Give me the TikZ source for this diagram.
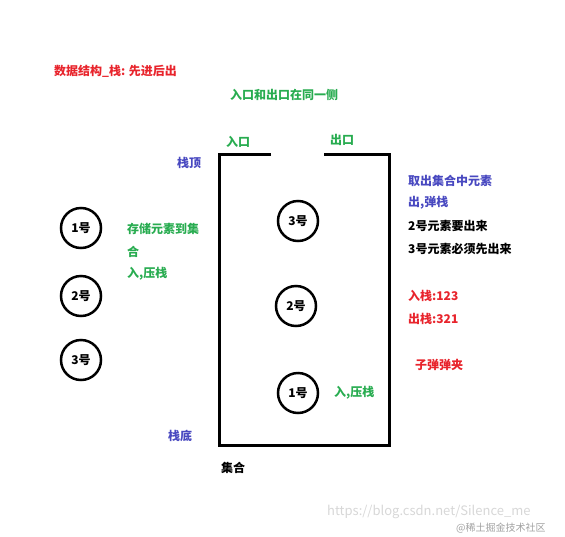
\documentclass[tikz,border=0pt]{standalone}
\usepackage{fontspec}
\setmainfont{Noto Sans CJK SC}
\usepackage{xcolor}
\definecolor{titelrot}{RGB}{232,36,44}
\definecolor{gruen}{RGB}{40,172,80}
\definecolor{blau}{RGB}{72,72,192}
\definecolor{wasser}{RGB}{215,215,215}
\begin{document}
\begin{tikzpicture}[x=1pt, y=-1pt, every node/.style={font=\bfseries\fontsize{12}{14}\selectfont, inner sep=0pt, anchor=west}]
		\useasboundingbox (0,0) rectangle (565,536);
		\tikzset{kugel/.style={draw, circle, line width=2.5pt, minimum size=40pt, anchor=center}}
		%
		%Titel
		\node[text=titelrot] (titel) at (54, 71) {数据结构\_栈: 先进后出};
		\node[text=gruen] (seite) at (230, 95) {入口和出口在同一侧};
		%
		%Behaelter
		\draw[line width = 3pt] (271,154) -- (219,154) -- (219,445) -- (389,445) -- (389,154) -- (324,154);
		\node[text=gruen] (eingang) at (226, 142) {入口};
		\node[text=gruen] (ausgang) at (330, 140) {出口};
		\node[text=blau] (oben) at (177, 163) {栈顶};
		\node[text=blau] (unten) at (168, 436) {栈底};
		\node (menge) at (221, 468) {集合};
		%
		%Kugeln links
		\node[kugel] (l1) at (81, 228) {1号};
		\node[kugel] (l2) at (81, 296) {2号};
		\node[kugel] (l3) at (81, 360) {3号};
		%
		%Kugeln im Stapel
		\node[kugel] (s3) at (298, 221) {3号};
		\node[kugel] (s2) at (296, 306) {2号};
		\node[kugel] (s1) at (298, 393) {1号};
		%
		%Text links
		\node[text=gruen] (speichern) at (127, 229) {存储元素到集};
		\node[text=gruen] (speichern2) at (127, 252) {合};
		\node[text=gruen] (push) at (127, 274) {入,压栈};
		\node[text=gruen] (push2) at (334, 393) {入,压栈};
		%
		%Text rechts
		\node[text=blau] (holen) at (408, 181) {取出集合中元素};
		\node[text=blau] (pop) at (408, 203) {出,弹栈};
		\node (zwei) at (408, 226) {2号元素要出来};
		\node (drei) at (408, 249) {3号元素必须先出来};
		\node[text=titelrot] (ein) at (408, 296) {入栈:123};
		\node[text=titelrot] (aus) at (408, 319) {出栈:321};
		\node[text=titelrot] (magazin) at (415, 365) {子弹弹夹};
		%
		%Wasserzeichen
		\node[text=wasser, font=\fontsize{13}{15}\selectfont] (url) at (327, 512) {https://blog.csdn.net/Silence\_me};
		\node[text=wasser!75!black, font=\fontsize{10}{12}\selectfont] (marke) at (456, 528) {@稀土掘金技术社区};
	\end{tikzpicture}
\end{document}
